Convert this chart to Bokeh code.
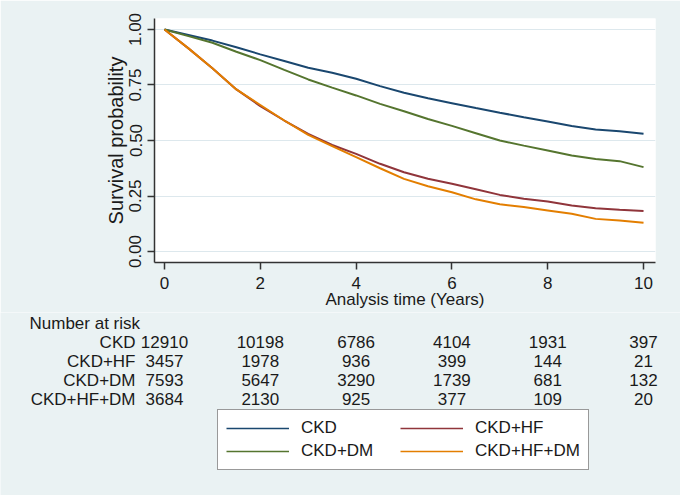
from bokeh.plotting import figure
from bokeh.models import Range1d, FixedTicker, Legend, LegendItem, ColumnDataSource
from bokeh.core.properties import value
from bokeh.embed import file_html
from bokeh.resources import INLINE

# ---------------- data ----------------
time = [0, 0.5, 1, 1.5, 2, 2.5, 3, 3.5, 4, 4.5, 5, 5.5, 6, 6.5, 7, 7.5, 8, 8.5, 9, 9.5, 10]
ckd = [1.0, 0.975, 0.95, 0.92, 0.888, 0.858, 0.828, 0.805, 0.778, 0.745, 0.715, 0.69,
       0.668, 0.646, 0.625, 0.605, 0.586, 0.565, 0.55, 0.542, 0.53]
ckd_hf = [1.0, 0.915, 0.825, 0.73, 0.655, 0.59, 0.53, 0.48, 0.44, 0.395, 0.357, 0.328,
          0.305, 0.28, 0.255, 0.238, 0.225, 0.207, 0.195, 0.188, 0.182]
ckd_dm = [1.0, 0.97, 0.94, 0.90, 0.862, 0.818, 0.775, 0.738, 0.703, 0.665, 0.632, 0.597,
          0.566, 0.533, 0.50, 0.477, 0.455, 0.432, 0.417, 0.407, 0.38]
ckd_hf_dm = [1.0, 0.915, 0.825, 0.73, 0.66, 0.59, 0.525, 0.475, 0.425, 0.375, 0.327, 0.294,
             0.267, 0.235, 0.213, 0.20, 0.185, 0.17, 0.147, 0.14, 0.129]

groups = ["CKD", "CKD+HF", "CKD+DM", "CKD+HF+DM"]
colors = ["#1a476f", "#90353b", "#55752f", "#e37e00"]

risk_times = [0, 2, 4, 6, 8, 10]
risk_ckd = [12910, 10198, 6786, 4104, 1931, 397]
risk_ckd_hf = [3457, 1978, 936, 399, 144, 21]
risk_ckd_dm = [7593, 5647, 3290, 1739, 681, 132]
risk_ckd_hf_dm = [3684, 2130, 925, 377, 109, 20]

x_ticks = [0, 2, 4, 6, 8, 10]
y_ticks = [0, 0.25, 0.5, 0.75, 1.0]
y_tick_labels = ["0.00", "0.25", "0.50", "0.75", "1.00"]

# ---------------- style ----------------
FONT = "Liberation Sans"
BG = "#eaf2f3"
TXT = "#1a1a1a"
AX = "#333333"
W = 680
PX_PER_YEAR = 47.9   # horizontal scale shared by plot and risk table
T0_PX = 164          # pixel column of t = 0

# ---------------- main plot ----------------
H1 = 312
p = figure(width=W, height=H1,
           x_range=Range1d(-0.209, 10.25), y_range=Range1d(-0.0495, 1.0495),
           output_backend="svg", toolbar_location=None,
           min_border_left=154, min_border_right=25, min_border_top=18, min_border_bottom=50,
           background_fill_color="white", border_fill_color=BG)
p.outline_line_color = None
p.xgrid.visible = False
p.ygrid.grid_line_color = "#dde8ed"
p.ygrid.grid_line_width = 1

p.xaxis.ticker = FixedTicker(ticks=x_ticks)
p.yaxis.ticker = FixedTicker(ticks=y_ticks)
p.yaxis.major_label_overrides = {t: l for t, l in zip(y_ticks, y_tick_labels)}
p.yaxis.major_label_orientation = "vertical"

for ax in (p.xaxis, p.yaxis):
    ax.axis_line_color = AX
    ax.axis_line_width = 1.5
    ax.major_tick_line_color = AX
    ax.major_tick_line_width = 1.5
    ax.major_tick_out = 7
    ax.major_tick_in = 0
    ax.minor_tick_line_color = None
    ax.major_label_text_font = FONT
    ax.major_label_text_font_size = "17px"
    ax.major_label_text_color = TXT
    ax.axis_label_text_font = FONT
    ax.axis_label_text_font_style = "normal"
    ax.axis_label_text_color = TXT

p.xaxis.axis_label = "Analysis time (Years)"
p.xaxis.axis_label_text_font_size = "17px"
p.xaxis.major_label_standoff = 7
p.xaxis.axis_label_standoff = -2
p.yaxis.axis_label = "Survival probability"
p.yaxis.axis_label_text_font_size = "20px"
p.yaxis.major_label_standoff = 6
p.yaxis.axis_label_standoff = 0

for vals, c in zip([ckd, ckd_hf, ckd_dm, ckd_hf_dm], colors):
    p.line(time, vals, line_color=c, line_width=2)

# ---------------- number-at-risk table + legend ----------------
H2 = 183
ROW_PX = 18.95
HEAD_PX = 11   # header row centre, pixels from the top of this panel

p2 = figure(width=W, height=H2,
            x_range=Range1d(-T0_PX / PX_PER_YEAR, (W - T0_PX) / PX_PER_YEAR),
            y_range=Range1d((H2 - HEAD_PX) / ROW_PX, -HEAD_PX / ROW_PX),
            output_backend="svg", toolbar_location=None, min_border=0,
            background_fill_color=BG, border_fill_color=BG)
p2.axis.visible = False
p2.grid.visible = False
p2.outline_line_color = None

risk_rows = [risk_ckd, risk_ckd_hf, risk_ckd_dm, risk_ckd_hf_dm]
xs, ys, txt = [], [], []
for i, row in enumerate(risk_rows):
    for t, n in zip(risk_times, row):
        xs.append(t)
        ys.append(i + 1)
        txt.append(str(n))
src = ColumnDataSource(dict(x=xs, y=ys, text=txt))
p2.text(x="x", y="y", text="text", source=src, text_align="center", text_baseline="middle",
        text_font=value(FONT), text_font_size="17px", text_color=TXT)

lab_src = ColumnDataSource(dict(x=[risk_times[0]] * len(groups),
                                y=list(range(1, len(groups) + 1)), text=groups))
p2.text(x="x", y="y", text="text", source=lab_src, text_align="right", text_baseline="middle",
        x_offset=-29, text_font=value(FONT), text_font_size="17px", text_color=TXT)

hdr_src = ColumnDataSource(dict(x=[risk_times[0]], y=[0], text=["Number at risk"]))
p2.text(x="x", y="y", text="text", source=hdr_src, text_align="left", text_baseline="middle",
        x_offset=-135, text_font=value(FONT), text_font_size="17px", text_color=TXT)

items = []
for g, c in zip(groups, colors):
    r = p2.line(x=[float("nan")], y=[float("nan")], line_color=c, line_width=1.5)
    items.append(LegendItem(label=g, renderers=[r]))

legend = Legend(items=items, ncols=2, orientation="horizontal", location=(217, 25),
                label_text_font=FONT, label_text_font_size="17px", label_text_color=TXT,
                glyph_width=63, glyph_height=20, label_standoff=12, label_height=20,
                label_width=96, spacing=3, padding=8, margin=0,
                border_line_color=AX, border_line_width=1.2,
                background_fill_color="white", background_fill_alpha=1.0)
p2.add_layout(legend)

open("out.html", "w").write(file_html([p, p2], INLINE))
